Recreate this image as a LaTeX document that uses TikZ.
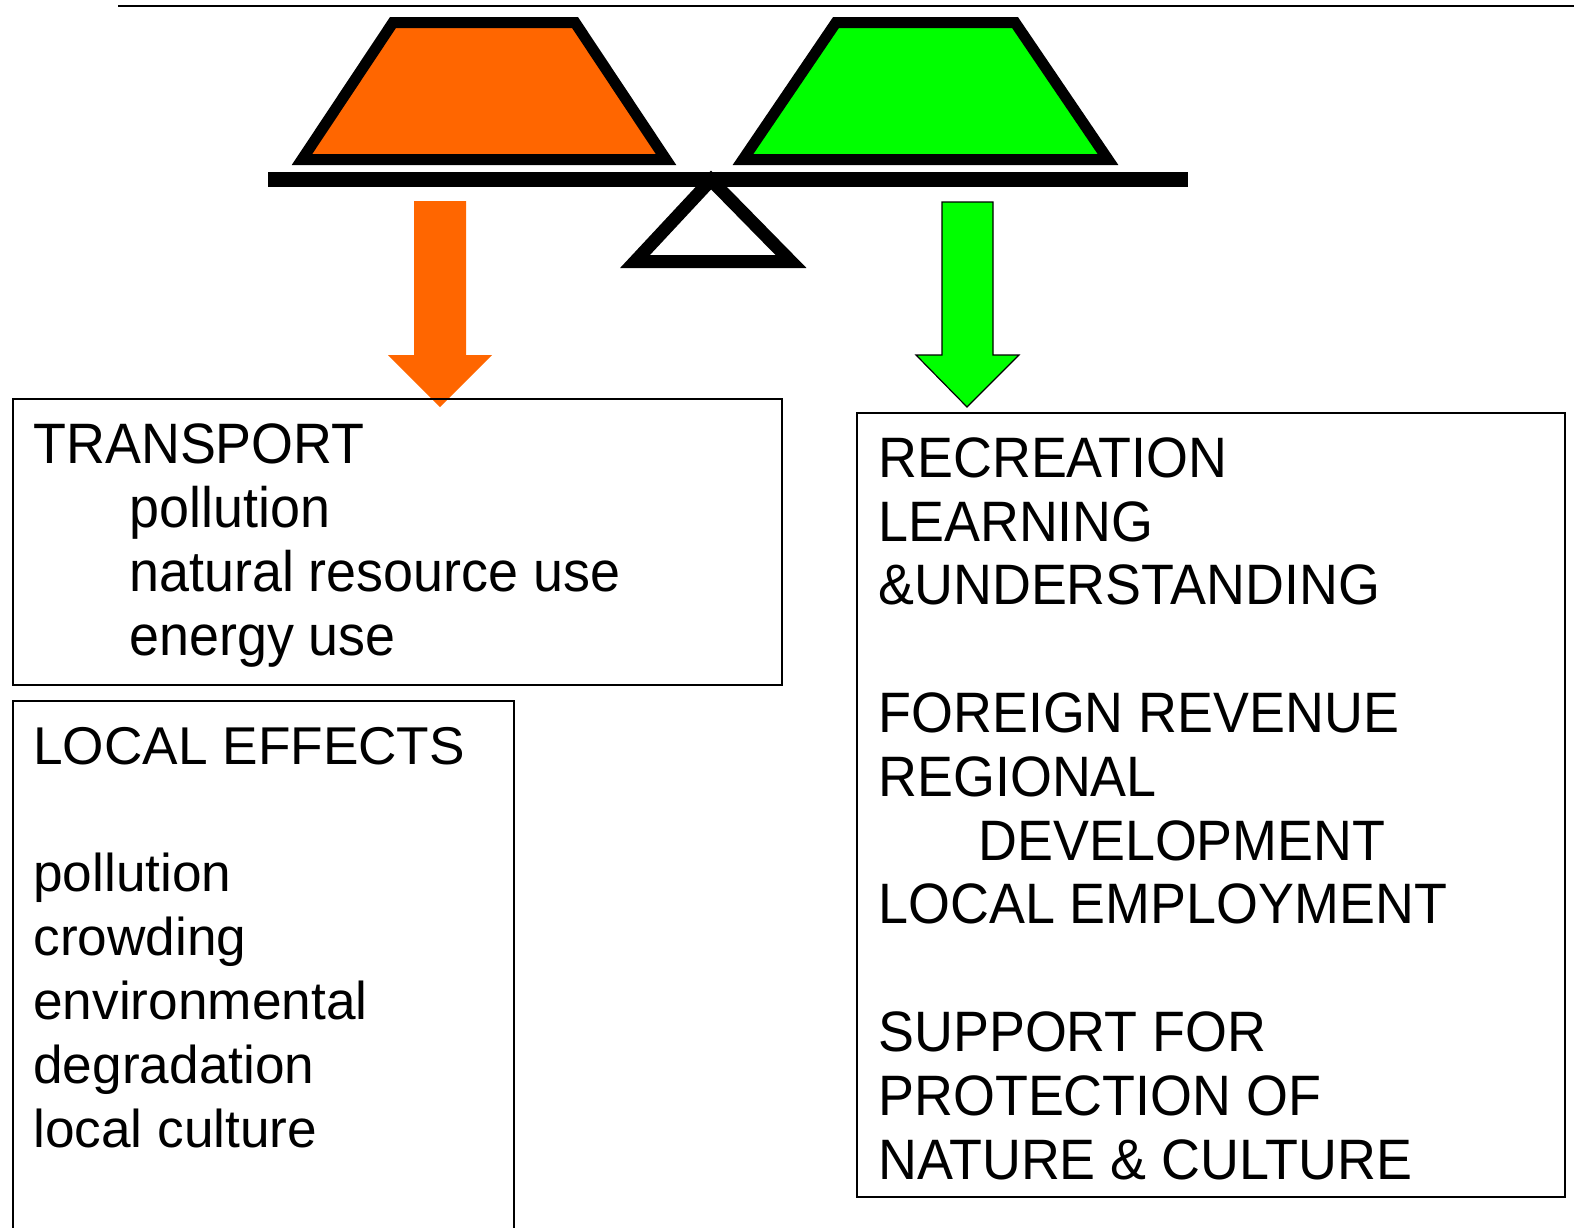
\documentclass[tikz,border=0pt]{standalone}
\usepackage{fontspec}
\setmainfont{Liberation Sans}
\newfontfamily\tallfont[FakeStretch=0.945]{Liberation Sans}
\definecolor{panorange}{HTML}{FF6600}
\definecolor{pangreen}{HTML}{00FF00}
\tikzset{
  pan/.style={draw=black, line width=5.5pt, line join=miter},
  listbox/.style={draw=black, line width=1pt, anchor=north west, inner sep=0pt},
  tallitems/.style={anchor=base west, inner sep=0pt, align=left,
    font=\tallfont\fontsize{28.5pt}{31.9pt}\selectfont},
  plainitems/.style={anchor=base west, inner sep=0pt, align=left,
    font=\fontsize{26.6pt}{31.9pt}\selectfont},
}
\begin{document}
\begin{tikzpicture}[x=0.5pt, y=-0.5pt]
    \useasboundingbox (0,0) rectangle (1574,1227);
    \draw[line width=1pt] (118,6) -- (1574,6);

    % Scale pans
    \filldraw[pan, fill=panorange] (393,22.5) -- (575,22.5) -- (666,159.5) -- (302,159.5) -- cycle;
    \filldraw[pan, fill=pangreen] (836,22.5) -- (1015,22.5) -- (1108,159.5) -- (743,159.5) -- cycle;

    % Fulcrum and beam
    \filldraw[draw=black, fill=white, line width=6.5pt, line join=miter]
        (711,180) -- (791,261.5) -- (635,261.5) -- cycle;
    \fill[black] (268,172) rectangle (1188,187);

    % Arrows
    \fill[panorange] (414,201) -- (466,201) -- (466,355) -- (492,355) -- (440,407)
        -- (388,355) -- (414,355) -- cycle;
    \filldraw[fill=pangreen, draw=black, line width=0.6pt] (942,202) -- (993,202) -- (993,355)
        -- (1019,355) -- (967,407) -- (916,355) -- (942,355) -- cycle;

    % Boxes
    \node[listbox, minimum width=384.5pt, minimum height=143pt] (transport) at (12,398) {};
    \node[listbox, minimum width=250.5pt, minimum height=268pt] (local) at (12,700) {};
    \node[listbox, minimum width=354pt, minimum height=392pt] (benefits) at (856,412) {};

    % Lists (base = last line)
    \node[tallitems] (transporttext) at (33,655) {TRANSPORT\\
        \hspace*{48pt}pollution\\
        \hspace*{48pt}natural resource use\\
        \hspace*{48pt}energy use};
    \node[plainitems] (localtext) at (33,1147) {LOCAL EFFECTS\\[31.9pt]
        pollution\\crowding\\environmental\\degradation\\local culture};
    \node[tallitems] (benefitstext) at (878,1179) {RECREATION\\LEARNING\\\&UNDERSTANDING\\[31.9pt]
        FOREIGN REVENUE\\REGIONAL\\
        \hspace*{50pt}DEVELOPMENT\\LOCAL EMPLOYMENT\\[31.9pt]
        SUPPORT FOR\\PROTECTION OF\\NATURE \& CULTURE};
\end{tikzpicture}
\end{document}
